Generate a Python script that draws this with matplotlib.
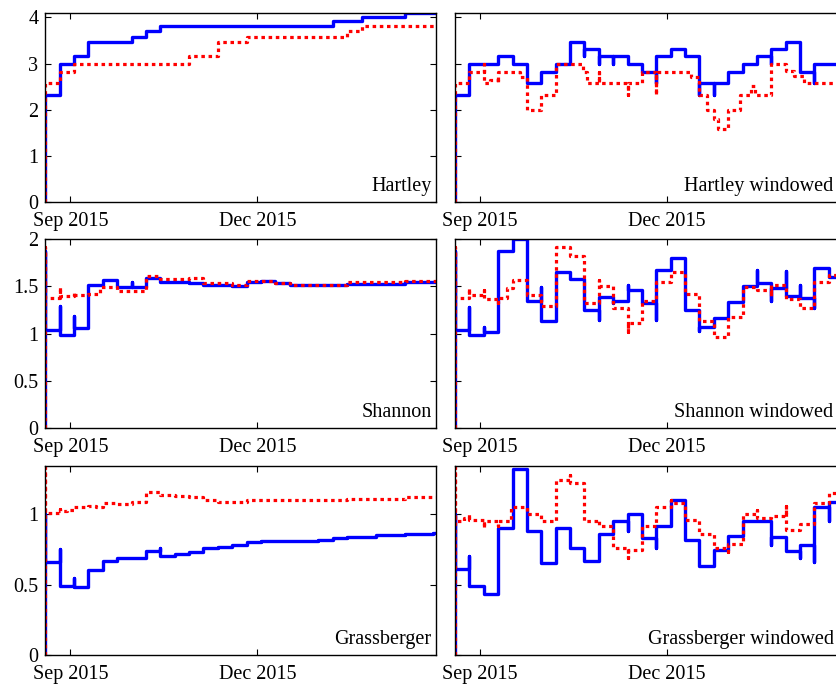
import numpy as np
import matplotlib
matplotlib.use("Agg")
import matplotlib.pyplot as plt
from matplotlib.ticker import FuncFormatter

plt.rcParams['font.family'] = ['Liberation Serif', 'DejaVu Serif']
plt.rcParams['font.size'] = 14.5

# step series: change points in weeks since the first sample,
# a repeated week means a short transient before the settled value
hart_t = [0, 0, 1, 2, 3, 6, 7, 8, 20, 22, 25]
hart_v = [0, 2.32, 3.0, 3.17, 3.46, 3.58, 3.70, 3.81, 3.91, 4.0, 4.087]
hart_ref_t = [0, 0, 1, 2, 10, 12, 14, 21, 22]
hart_ref_v = [0, 2.58, 2.81, 3.0, 3.17, 3.46, 3.58, 3.70, 3.81]

hartw_t = [0, 0, 1, 3, 4, 5, 6, 7, 8, 9, 9, 10, 10, 11, 11, 12, 13, 14, 14, 15, 16,
           17, 17, 18, 18, 19, 20, 21, 22, 22, 23, 24, 25, 25]
hartw_v = [0, 2.32, 3.0, 3.17, 3.0, 2.58, 2.81, 3.0, 3.46, 3.17, 3.32, 3.0, 3.17, 3.0, 3.17,
           3.0, 2.81, 2.58, 3.17, 3.32, 3.17, 2.32, 2.58, 2.32, 2.58, 2.81, 3.0, 3.17, 3.0,
           3.32, 3.46, 2.81, 2.58, 3.0]
hartw_ref_t = [0, 0, 1, 2, 2, 2.4, 3, 3, 4.5, 5, 6, 7, 8.9, 9.2, 10, 10, 12, 12, 13, 14, 14,
               16.4, 17, 17.5, 18, 18.3, 19, 19.8, 20.6, 20.9, 22, 23, 23.6, 24.3]
hartw_ref_v = [0, 2.58, 2.81, 3.0, 2.58, 2.64, 2.58, 2.81, 2.70, 2.0, 2.32, 3.0, 2.81, 2.58,
               2.81, 2.58, 2.32, 2.58, 2.81, 2.32, 2.81, 2.70, 2.32, 2.0, 1.81, 1.58, 2.0,
               2.32, 2.52, 2.32, 3.0, 2.84, 2.73, 2.58]

shan_t = [0, 0, 0, 1, 1, 2, 2, 3, 4, 5, 6, 6, 7, 8, 10, 11, 13, 14, 15, 16, 17, 21, 25]
shan_v = [0, 1.88, 1.04, 1.29, 0.99, 1.19, 1.06, 1.52, 1.57, 1.49, 1.55, 1.49, 1.59, 1.55,
          1.54, 1.52, 1.50, 1.55, 1.56, 1.54, 1.52, 1.53, 1.55]
shan_ref_t = [0, 0, 0, 1, 1, 2, 2, 3, 3.8, 5, 7, 8, 10, 11, 13, 14, 16, 17, 21, 25]
shan_ref_v = [0, 1.92, 1.38, 1.49, 1.40, 1.44, 1.41, 1.42, 1.49, 1.45, 1.61, 1.58, 1.59,
              1.54, 1.52, 1.56, 1.54, 1.52, 1.55, 1.56]

shanw_t = [0, 0, 0, 1, 1, 2, 2, 3, 4, 5, 6, 6, 7, 8, 9, 10, 10, 11, 11, 12, 12, 13, 14, 14,
           15, 16, 17, 17, 18, 19, 20, 21, 21, 22, 22, 23, 23, 24, 24, 25, 25, 26]
shanw_v = [0, 1.88, 1.04, 1.28, 0.99, 1.07, 1.02, 1.87, 2.0, 1.35, 1.49, 1.13, 1.65, 1.58,
           1.25, 1.15, 1.39, 1.32, 1.35, 1.52, 1.46, 1.32, 1.14, 1.67, 1.80, 1.25, 1.03, 1.07,
           1.17, 1.34, 1.51, 1.67, 1.54, 1.35, 1.48, 1.66, 1.40, 1.52, 1.38, 1.27, 1.69, 1.60]
shanw_ref_t = [0, 0, 0, 1, 1, 2, 2, 3, 3, 3.6, 4, 5, 6, 7, 8, 9, 10, 10, 11, 11, 12, 12, 13,
               13, 14, 15, 16, 17, 18, 19, 20, 21, 22, 22, 23, 24, 25, 26]
shanw_ref_v = [0, 1.92, 1.38, 1.48, 1.41, 1.46, 1.37, 1.32, 1.38, 1.48, 1.57, 1.41, 1.29,
               1.92, 1.82, 1.33, 1.57, 1.50, 1.35, 1.27, 1.02, 1.11, 1.17, 1.35, 1.55, 1.65,
               1.42, 1.13, 0.97, 1.18, 1.49, 1.46, 1.40, 1.52, 1.37, 1.27, 1.55, 1.62]

gras_t = [0, 0, 0, 1, 1, 2, 2, 3, 4, 5, 7, 8, 8, 9, 10, 11, 12, 13, 14, 15, 19, 20, 21,
          23, 25, 27]
gras_v = [0, 1.0, 0.66, 0.75, 0.49, 0.55, 0.48, 0.60, 0.67, 0.69, 0.74, 0.76, 0.70, 0.72,
          0.73, 0.76, 0.77, 0.78, 0.80, 0.81, 0.82, 0.83, 0.84, 0.85, 0.86, 0.87]
gras_ref_t = [0, 0, 0, 1, 1, 1.5, 2, 3, 3.5, 4, 5, 6, 7, 8, 9, 10, 11, 12, 14, 21, 25]
gras_ref_v = [0, 1.34, 1.01, 1.04, 1.02, 1.03, 1.05, 1.06, 1.05, 1.08, 1.07, 1.09, 1.16,
              1.14, 1.13, 1.12, 1.10, 1.09, 1.10, 1.11, 1.12]

grasw_t = [0, 0, 0, 1, 1, 2, 3, 4, 5, 6, 7, 8, 9, 10, 11, 12, 12, 13, 14, 14, 15, 16, 17,
           18, 19, 20, 22, 22, 23, 24, 24, 25, 25, 26, 26]
grasw_v = [0, 1.0, 0.61, 0.70, 0.49, 0.435, 0.90, 1.32, 0.88, 0.65, 0.90, 0.76, 0.67, 0.86,
           0.95, 0.88, 1.0, 0.83, 0.76, 0.92, 1.10, 0.82, 0.63, 0.745, 0.845, 0.95, 0.78,
           0.84, 0.74, 0.69, 0.78, 0.66, 1.055, 0.95, 1.09]
grasw_ref_t = [0, 0, 0, 0.6, 1, 1, 2, 2, 3, 3, 3.9, 5, 6, 7, 8, 8, 9, 10, 10, 11, 12, 12, 13,
               14, 15, 15, 16, 17, 18, 19, 19, 20, 21, 21, 22, 23, 23, 24, 25, 26]
grasw_ref_v = [0, 1.34, 0.95, 0.97, 1.0, 0.96, 0.90, 0.95, 0.92, 0.95, 1.055, 1.0, 0.95,
               1.245, 1.28, 1.22, 0.95, 0.96, 0.92, 0.76, 0.69, 0.745, 0.92, 1.05, 1.10, 1.08,
               0.96, 0.86, 0.76, 0.73, 0.79, 1.0, 1.03, 0.97, 0.99, 1.06, 0.89, 0.93, 1.08,
               1.15]

panels = [
    ("Hartley", hart_t, hart_v, hart_ref_t, hart_ref_v),
    ("Hartley windowed", hartw_t, hartw_v, hartw_ref_t, hartw_ref_v),
    ("Shannon", shan_t, shan_v, shan_ref_t, shan_ref_v),
    ("Shannon windowed", shanw_t, shanw_v, shanw_ref_t, shanw_ref_v),
    ("Grassberger", gras_t, gras_v, gras_ref_t, gras_ref_v),
    ("Grassberger windowed", grasw_t, grasw_v, grasw_ref_t, grasw_ref_v),
]
row_ylim = [4.087, 2.0, 1.345]
row_yticks = [[0, 1, 2, 3, 4], [0, 0.5, 1, 1.5, 2], [0, 0.5, 1]]

t_start = np.datetime64('2015-08-19T18:00')
t_end = np.datetime64('2016-02-26T00:00')
xticks = [np.datetime64('2015-09-01'), np.datetime64('2015-12-01')]
xticklabels = ['Sep 2015', 'Dec 2015']


def to_dates(weeks):
    minutes = np.round(np.asarray(weeks, float) * 7 * 24 * 60).astype('timedelta64[m]')
    return t_start + minutes


W, H = 836, 686
fig = plt.figure(figsize=(W / 100, H / 100), dpi=100)
col_x = [45.3, 455.0]
row_top = [13.3, 239.2, 465.8]
ax_w, ax_h = 390.7, 189.0

for i, (name, bt, bv, rt, rv) in enumerate(panels):
    row, col = divmod(i, 2)
    ax = fig.add_axes([col_x[col] / W, (H - row_top[row] - ax_h) / H, ax_w / W, ax_h / H])

    bx = np.append(to_dates(bt), t_end)
    by = np.append(bv, bv[-1])
    rx = np.append(to_dates(rt), t_end)
    ry = np.append(rv, rv[-1])
    ax.plot(bx, by, drawstyle='steps-post', color='#0000ff', lw=2.4)
    ax.plot(rx, ry, drawstyle='steps-post', color='#ff0000', lw=2.3,
            linestyle=(0, (1.1, 1.15)))

    ax.set_xlim(t_start, t_end)
    ax.set_ylim(0, row_ylim[row])
    ax.set_xticks(xticks)
    ax.set_xticklabels(xticklabels)
    ax.set_yticks(row_yticks[row])
    ax.yaxis.set_major_formatter(FuncFormatter(lambda v, p: '%g' % v))
    ax.tick_params(direction='in', top=True, right=True, length=4, width=0.8)
    ax.tick_params(axis='x', pad=7)
    ax.tick_params(axis='y', pad=5)
    if col == 1:
        ax.tick_params(labelleft=False)
    for s in ax.spines.values():
        s.set_linewidth(1.0)

    tx = (431.7 - col_x[0]) / ax_w if col == 0 else (833.5 - col_x[1]) / ax_w
    ax.text(tx, 11 / ax_h, name, transform=ax.transAxes, ha='right', va='baseline')

fig.savefig("out.png", dpi=100)
